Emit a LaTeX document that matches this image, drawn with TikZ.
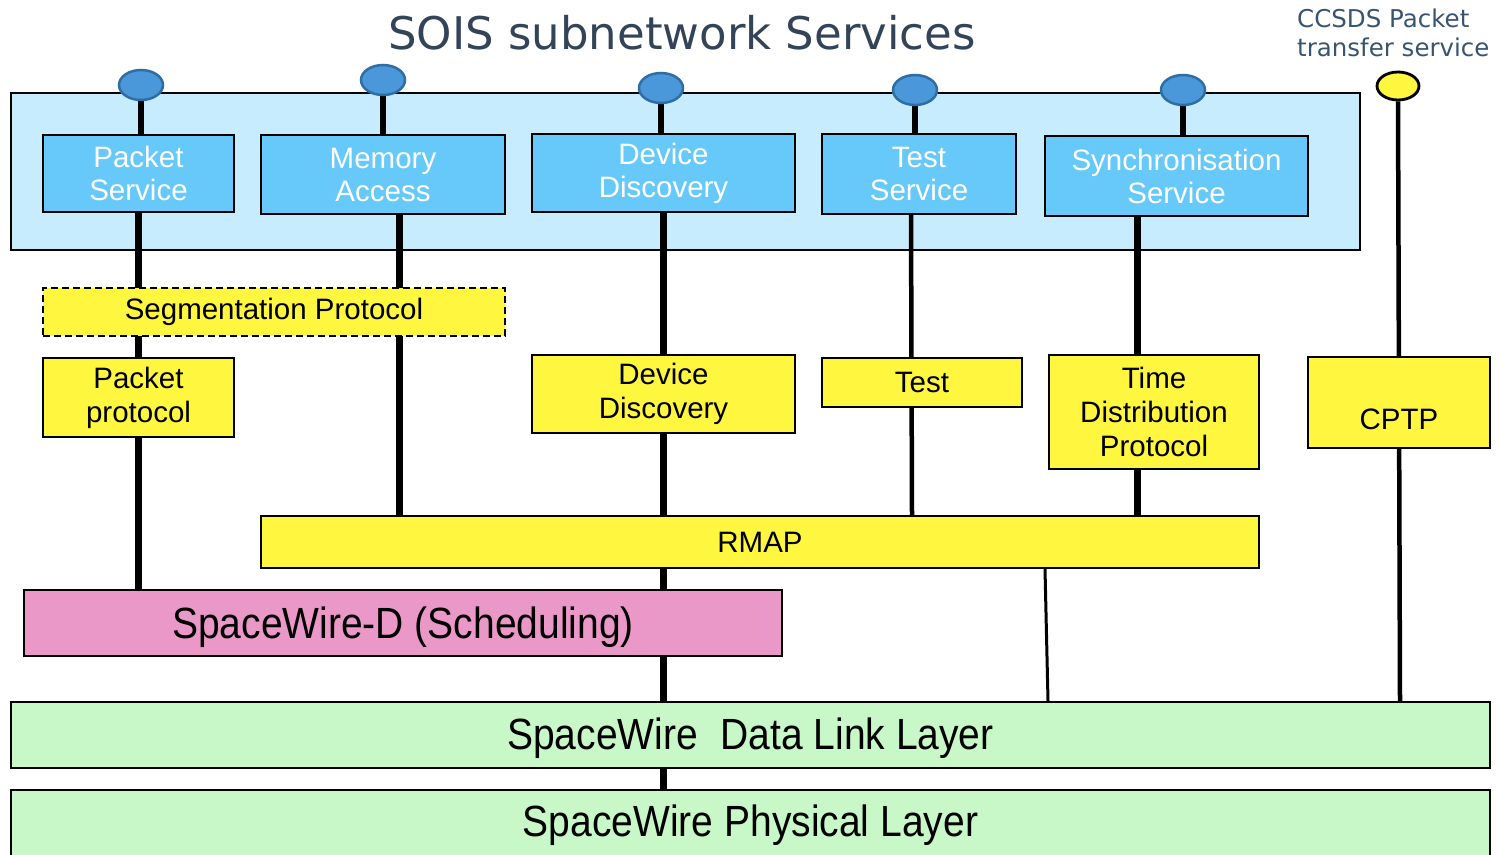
\documentclass[tikz,border=0pt]{standalone}
\usepackage{fontspec}
\setmainfont{Liberation Sans}
\newfontfamily\dejavu{DejaVu Sans}
\usetikzlibrary{shapes.geometric}
\pgfdeclarelayer{back}
\pgfdeclarelayer{lines}
\pgfsetlayers{back,lines,main}
\definecolor{bigblue}{RGB}{198,236,253}
\definecolor{svcblue}{RGB}{102,201,249}
\definecolor{ellfill}{RGB}{74,152,218}
\definecolor{elldraw}{RGB}{47,110,165}
\definecolor{protoyellow}{RGB}{255,246,64}
\definecolor{swdpink}{RGB}{234,152,200}
\definecolor{layergreen}{RGB}{200,248,200}
\definecolor{titlecol}{RGB}{52,68,88}
\definecolor{ccsdscol}{RGB}{56,84,112}
\newcommand{\lowertext}[2]{\raisebox{0pt}[\dimexpr\height+#1\relax]{\scalebox{1}[1.12]{#2}}}
\tikzset{
  box/.style={draw=black, line width=1.8pt, inner sep=0pt, align=center},
  svcbox/.style={box, fill=svcblue, text=white, font=\fontsize{29.5}{33}\selectfont},
  protobox/.style={box, fill=protoyellow, text=black, font=\fontsize{29.5}{34}\selectfont},
  bigtext/.style={font=\fontsize{39}{44}\selectfont},
  layerbox/.style={box, fill=layergreen, bigtext},
  bellipse/.style={ellipse, draw=elldraw, fill=ellfill, line width=2.5pt, minimum width=44pt, minimum height=30pt, inner sep=0pt},
  yellipse/.style={ellipse, draw=black, fill=protoyellow, line width=2.8pt, minimum width=42pt, minimum height=28pt, inner sep=0pt},
  thickline/.style={line width=7pt},
  upline/.style={line width=6pt},
  medline/.style={line width=4.5pt},
  thinline/.style={line width=3pt},
}
\begin{document}
\begin{tikzpicture}[x=1pt,y=-1pt]
\useasboundingbox (0,0) rectangle (1501,854);
\begin{pgfonlayer}{back}
\node[box, fill=bigblue, minimum width=1349pt, minimum height=157pt] (sois) at (685.5,171.5) {};
\end{pgfonlayer}
% title texts
\node[text=titlecol, font=\dejavu\fontsize{45}{50}\selectfont, inner sep=0pt] (title) at (682,33) {SOIS subnetwork Services};
\node[text=ccsdscol, font=\dejavu\fontsize{24.5}{29}\selectfont, align=left, anchor=west, inner sep=0pt] (ccsds) at (1297,33) {CCSDS Packet\\transfer service};
% service boxes
\node[svcbox, minimum width=191pt, minimum height=77pt] (ps) at (138.5,173.5) {Packet\\Service};
\node[svcbox, minimum width=244pt, minimum height=79pt] (ma) at (383,174.5) {Memory\\Access};
\node[svcbox, minimum width=263pt, minimum height=78pt] (dds) at (663.5,173) {Device\\Discovery};
\node[svcbox, minimum width=194pt, minimum height=80pt] (ts) at (919,174) {Test\\Service};
\node[svcbox, minimum width=263pt, minimum height=80pt] (ss) at (1176.5,176) {Synchronisation\\Service};
% ellipses
\node[bellipse] (e1) at (141,85) {};
\node[bellipse] (e2) at (383,80) {};
\node[bellipse] (e3) at (661,88) {};
\node[bellipse] (e4) at (915,90) {};
\node[bellipse] (e5) at (1183,90) {};
\node[yellipse] (ey) at (1398,86) {};
% protocol boxes
\node[protobox, dashed, dash pattern=on 7pt off 4pt, minimum width=462pt, minimum height=48pt] (seg) at (274,312) {Segmentation Protocol};
\node[protobox, minimum width=191pt, minimum height=79pt] (pp) at (138.5,397.5) {Packet\\protocol};
\node[protobox, minimum width=263pt, minimum height=78pt] (ddp) at (663.5,394) {Device\\Discovery};
\node[protobox, minimum width=200pt, minimum height=49pt] (test) at (922,382.5) {Test};
\node[protobox, minimum width=210pt, minimum height=114pt] (tdp) at (1154,412) {Time\\Distribution\\Protocol};
\node[protobox, minimum width=182pt, minimum height=91pt] (cptp) at (1399,402.5) {};
\node[font=\fontsize{29.5}{34}\selectfont, inner sep=0pt] (cptplabel) at ([yshift=-17pt]cptp.center) {CPTP};
\node[protobox, minimum width=998pt, minimum height=52pt] (rmap) at (760,542) {RMAP};
\node[box, fill=swdpink, bigtext, minimum width=758pt, minimum height=66pt] (swd) at (403,623) {\lowertext{9pt}{SpaceWire-D (Scheduling)}};
\node[layerbox, minimum width=1479pt, minimum height=66pt] (dll) at (750.5,735) {\lowertext{7pt}{SpaceWire\hspace{0.3em} Data Link Layer}};
\node[layerbox, minimum width=1479pt, minimum height=70pt] (phy) at (750.5,825) {\lowertext{1pt}{SpaceWire Physical Layer}};
% connectors
\begin{pgfonlayer}{lines}
\draw[upline] (e1.south) -- (e1.south |- ps.north);
\draw[thickline] (ps.south) -- (ps.south |- swd.north);
\draw[upline] (e2.south) -- (e2.south |- ma.north);
\draw[thickline] ([xshift=16pt]ma.south) -- ([xshift=16pt]ma.south |- rmap.north);
\draw[upline] (e3.south) -- (e3.south |- dds.north);
\draw[thickline] ([xshift=-0.5pt]dds.south) -- ([xshift=-0.5pt]dds.south |- phy.north);
\draw[upline] (e4.south) -- (e4.south |- ts.north);
\draw[medline] ([xshift=-8pt]ts.south) -- ([xshift=-7pt]ts.south |- rmap.north);
\draw[upline] (e5.south) -- (e5.south |- ss.north);
\draw[thickline] ([xshift=-39.5pt]ss.south) -- ([xshift=-39.5pt]ss.south |- rmap.north);
\draw[medline] (ey.south) -- ([xshift=2pt]ey.south |- dll.north);
\draw[thinline] ([xshift=285pt]rmap.south) -- ([xshift=288pt]rmap.south |- dll.north);
\end{pgfonlayer}
\end{tikzpicture}
\end{document}
